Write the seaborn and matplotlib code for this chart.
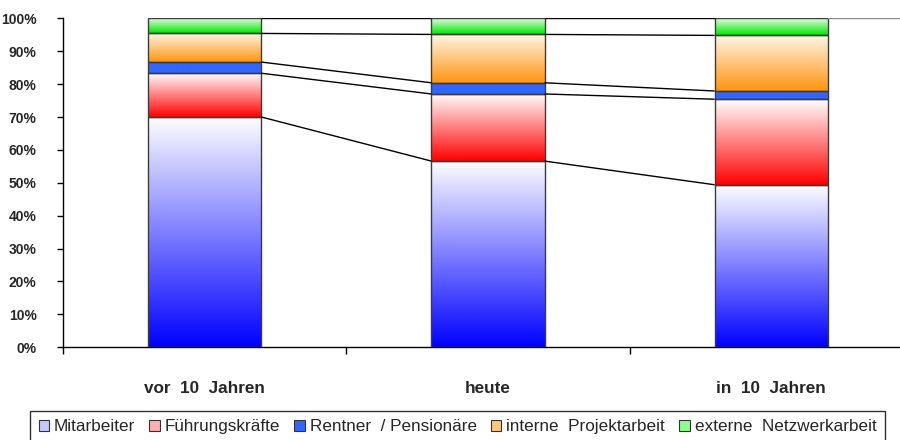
import numpy as np
import pandas as pd
import matplotlib
matplotlib.use("Agg")
import matplotlib.pyplot as plt
import seaborn as sns
from matplotlib.colors import LinearSegmentedColormap
from matplotlib.patches import Patch
from matplotlib import font_manager

categories = ["vor  10  Jahren", "heute", "in  10  Jahren"]
series_names = ["Mitarbeiter", "Führungskräfte", "Rentner  / Pensionäre",
                "interne  Projektarbeit", "externe  Netzwerkarbeit"]
mitarbeiter = [70.0, 56.6, 49.4]
fuehrungskraefte = [13.3, 20.4, 26.0]
rentner = [3.4, 3.4, 2.5]
projektarbeit = [8.7, 14.7, 16.9]
netzwerkarbeit = [4.6, 4.9, 5.2]
y_ticks = [0, 10, 20, 30, 40, 50, 60, 70, 80, 90, 100]
y_tick_labels = [f"{v}%" for v in y_ticks]

# (bottom colour, top colour) of each segment's vertical gradient
gradients = [
    ("#0000ff", "#ffffff"),
    ("#ff0000", "#ffffff"),
    ("#3366ff", "#3366ff"),
    ("#ff9410", "#fff6e6"),
    ("#00e600", "#f2fff2"),
]
legend_colors = ["#c8c8ff", "#ffb0b0", "#3366ff", "#ffc880", "#90ff90"]

sns.set_style("white")
installed = {f.name for f in font_manager.fontManager.ttflist}
families = [f for f in ["Liberation Sans Narrow", "Liberation Sans", "DejaVu Sans"] if f in installed]
plt.rcParams["font.family"] = families

fig = plt.figure(figsize=(9, 4.4), dpi=100)
ax = fig.add_axes([63 / 900, 92.7 / 440, 850 / 900, 329 / 440])

values = [mitarbeiter, fuehrungskraefte, rentner, projektarbeit, netzwerkarbeit]
bottom = np.zeros(len(categories))
layers = []
for name, vals, (c_bot, c_top) in zip(series_names, values, gradients):
    df = pd.DataFrame({"Zeitpunkt": categories, "Anteil": vals})
    before = len(ax.patches)
    sns.barplot(data=df, x="Zeitpunkt", y="Anteil", order=categories,
                bottom=bottom.copy(), width=0.4, color=c_bot,
                errorbar=None, ax=ax)
    patches = ax.patches[before:]
    cmap = LinearSegmentedColormap.from_list(name, [c_bot, c_top])
    grad = np.linspace(0, 1, 256).reshape(-1, 1)
    for p in patches:
        x0, y0, w, h = p.get_x(), p.get_y(), p.get_width(), p.get_height()
        ax.imshow(grad, cmap=cmap, extent=[x0, x0 + w, y0, y0 + h],
                  origin="lower", aspect="auto", interpolation="bilinear",
                  zorder=2)
        p.set_facecolor("none")
        p.set_edgecolor("#3c3c3c")
        p.set_linewidth(1.0)
        p.set_zorder(3)
    layers.append(patches)
    bottom = bottom + np.array(vals)

# series lines joining the segment tops of neighbouring bars
for patches in layers:
    for a, b in zip(patches[:-1], patches[1:]):
        ax.plot([a.get_x() + a.get_width(), b.get_x()],
                [a.get_y() + a.get_height(), b.get_y() + b.get_height()],
                color="black", lw=1.0, zorder=3, solid_capstyle="butt")
last = layers[-1][-1]
ax.plot([last.get_x() + last.get_width(), 2.5], [100, 100],
        color="#8c8c8c", lw=1.0, zorder=3)

ax.set_xlim(-0.5, 2.5)
ax.set_ylim(0, 100)
ax.set_xlabel("")
ax.set_ylabel("")

ax.set_yticks(y_ticks)
ax.set_yticklabels(y_tick_labels, fontsize=10, fontweight="bold")
ax.tick_params(axis="y", direction="out", length=4, width=1, color="black",
               pad=15, left=True)

ax.set_xticks([-0.5, 0.5, 1.5, 2.5])
ax.set_xticklabels([])
ax.set_xticks([0, 1, 2], minor=True)
ax.set_xticklabels(categories, minor=True, fontsize=12.3, fontweight="bold")
ax.tick_params(axis="x", which="major", direction="out", length=5, width=1,
               color="black", bottom=True)
ax.tick_params(axis="x", which="minor", length=0, pad=24)

for side in ["top", "right"]:
    ax.spines[side].set_visible(False)
for side in ["left", "bottom"]:
    ax.spines[side].set_color("black")
    ax.spines[side].set_linewidth(1.0)
ax.grid(False)

handles = [Patch(facecolor=c, edgecolor="#333333", linewidth=0.8) for c in legend_colors]
leg = fig.legend(handles, series_names, loc="lower left", ncol=5,
                 bbox_to_anchor=(30 / 900, -3 / 440, 855 / 900, 30 / 440),
                 mode="expand", fontsize=12.3, frameon=True, fancybox=False,
                 handlelength=0.6, handleheight=0.6, handletextpad=0.3,
                 borderaxespad=0, borderpad=0.5)
leg.get_frame().set_edgecolor("black")
leg.get_frame().set_linewidth(1.0)

fig.savefig("out.png", dpi=100)
